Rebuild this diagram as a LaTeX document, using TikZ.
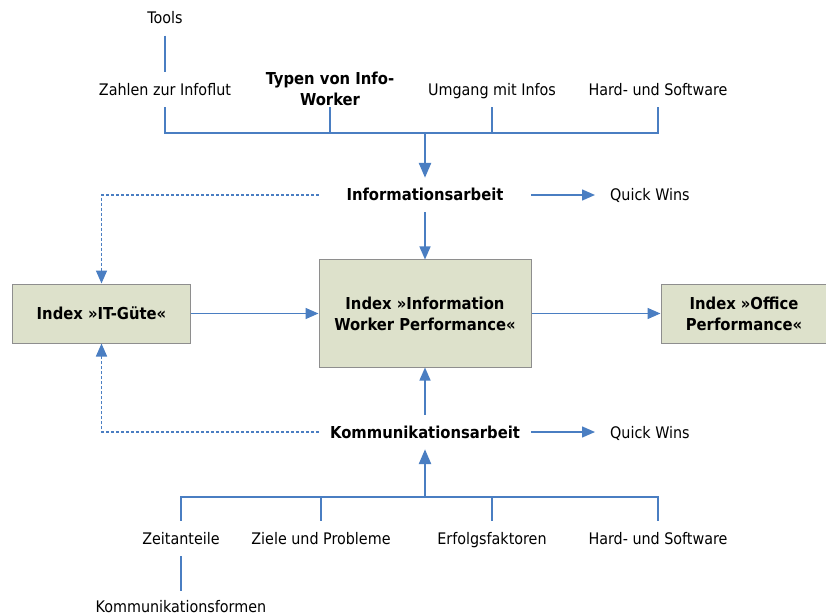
\documentclass[tikz,border=0pt]{standalone}
\usepackage{fontspec}
\setmainfont{DejaVu Sans Condensed}
\usetikzlibrary{arrows.meta}
\definecolor{lineblue}{HTML}{4A7EC2}
\definecolor{boxfill}{HTML}{DDE1CB}
\definecolor{boxdraw}{HTML}{8E8E8E}
\begin{document}
\begin{tikzpicture}[x=1bp,y=-1bp,
  font=\fontsize{16}{21}\selectfont,
  lbl/.style={inner sep=0pt, minimum height=35bp, align=center, text height=12.5bp, text depth=0.5bp},
  bl/.style={inner sep=0pt, align=center, font=\bfseries\fontsize{16.5}{21}\selectfont},
  work/.style={inner sep=0pt, minimum width=212bp, minimum height=34bp, text height=12.5bp, text depth=0.5bp, font=\bfseries\fontsize{16.5}{21}\selectfont},
  qw/.style={anchor=west, inner xsep=15bp, inner ysep=0pt, text height=12.5bp, text depth=0.5bp},
  idx/.style={draw=boxdraw, fill=boxfill, line width=1bp, inner sep=0pt, align=center, font=\bfseries\fontsize{16.5}{21}\selectfont},
  link/.style={draw=lineblue, line width=1.4bp},
  arr/.style={link, -{Triangle[length=13bp,width=11bp]}},
  dasharr/.style={arr, dash pattern=on 3bp off 2bp},
  thickarr/.style={draw=lineblue, line width=2.6bp, -{Triangle[length=15bp,width=12bp]}}
]
\useasboundingbox (0,0) rectangle (826,616);
% top labels
\node[lbl] (tools) at (165,18) {Tools};
\node[lbl] (zahlen) at (165,89.5) {Zahlen zur Infoflut};
\node[bl, minimum height=37bp] (typen) at (330,88.5) {Typen von Info-\\Worker};
\node[lbl] (umgang) at (492,89.5) {Umgang mit Infos};
\node[lbl] (hw1) at (658,89.5) {Hard- und Software};
\coordinate (topbus) at (425,133);
% middle
\node[work] (info) at (425,195) {Informationsarbeit};
\node[qw] (qw1) at (595,195) {Quick Wins};
\node[idx, minimum width=177bp, minimum height=59bp] (itg) at (101.5,313.5) {Index »IT-Güte«};
\node[idx, minimum width=212bp, minimum height=107bp] (iwp) at (425,313.5) {Index »Information\\Worker Performance«};
\node[idx, minimum width=166bp, minimum height=59bp] (office) at (744,313.5) {Index »Office\\Performance«};
\node[work] (comm) at (425,432) {Kommunikationsarbeit};
\node[qw] (qw2) at (595,432) {Quick Wins};
% bottom labels
\coordinate (botbus) at (425,497);
\node[lbl] (zeit) at (181,538.5) {Zeitanteile};
\node[lbl] (ziele) at (321,538.5) {Ziele und Probleme};
\node[lbl] (erfolg) at (492,538.5) {Erfolgsfaktoren};
\node[lbl] (hw2) at (658,538.5) {Hard- und Software};
\node[lbl, minimum height=30bp] (komm) at (181,606) {Kommunikationsformen};
% connectors top
\draw[link] (tools) -- (zahlen);
\draw[link] (zahlen.south) -- (zahlen.south |- topbus) -- (hw1.south |- topbus) -- (hw1.south);
\draw[link] (typen.south) -- (typen.south |- topbus);
\draw[link] (umgang.south) -- (umgang.south |- topbus);
\draw[thickarr] (topbus) -- (info.north);
% middle connectors
\draw[arr] (info) -- (iwp);
\draw[arr] (info.east) -- (qw1.west);
\draw[dasharr] (info.west) -| (itg.north);
\draw[arr] (itg) -- (iwp);
\draw[arr] (iwp) -- (office);
\draw[arr] (comm) -- (iwp);
\draw[arr] (comm.east) -- (qw2.west);
\draw[dasharr] (comm.west) -| (itg.south);
% bottom connectors
\draw[thickarr] (botbus) -- (comm.south);
\draw[link] (zeit.north) -- (zeit.north |- botbus) -- (hw2.north |- botbus) -- (hw2.north);
\draw[link] (ziele.north) -- (ziele.north |- botbus);
\draw[link] (erfolg.north) -- (erfolg.north |- botbus);
\draw[link] (zeit) -- (komm);
\end{tikzpicture}
\end{document}
